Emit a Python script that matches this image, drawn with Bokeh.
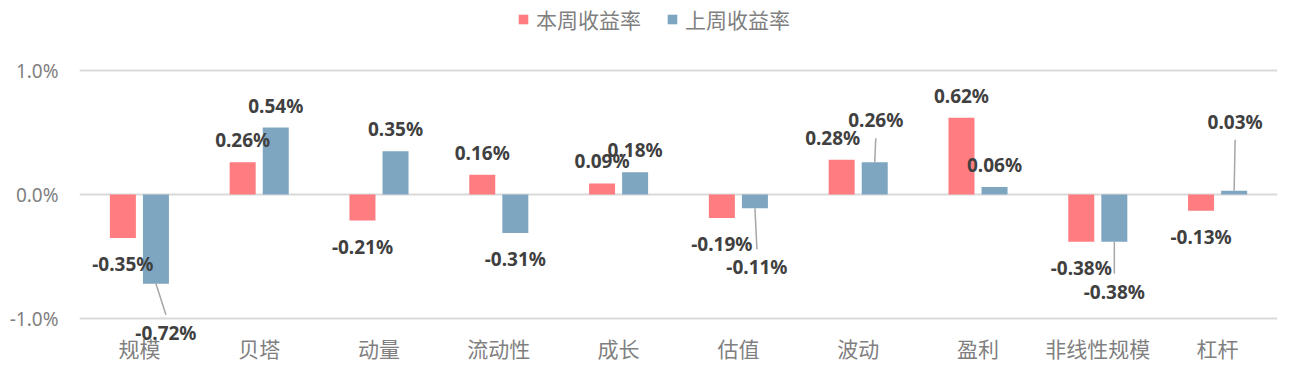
from bokeh.plotting import figure
from bokeh.models import (ColumnDataSource, Range1d, FixedTicker, PrintfTickFormatter,
                          Legend, LegendItem)
from bokeh.core.properties import value
from bokeh.embed import file_html
from bokeh.resources import INLINE

# ---- data ----
categories = ["规模", "贝塔", "动量", "流动性", "成长", "估值", "波动", "盈利", "非线性规模", "杠杆"]
this_week = [-0.35, 0.26, -0.21, 0.16, 0.09, -0.19, 0.28, 0.62, -0.38, -0.13]
last_week = [-0.72, 0.54, 0.35, -0.31, 0.18, -0.11, 0.26, 0.06, -0.38, 0.03]
series_names = ["本周收益率", "上周收益率"]
y_ticks = [-1.0, 0.0, 1.0]

# ---- style / layout ----
RED = "#FF7C80"
BLUE = "#7EA6C0"
LABEL_COLOR = "#404040"
AXIS_COLOR = "#7F7F7F"
W, H = 1290, 369
BORDER_L, BORDER_R, BORDER_T, BORDER_B = 79, 13, 0, 0
# frame spans the whole height: the -1%..1% band sits at 70..318 px,
# the extra room holds the legend (top) and category labels (bottom)
Y_MIN, Y_MAX = -1.411, 1.565
BAR_W = 0.217
OFFSET = 0.138
PX_X = (W - BORDER_L - BORDER_R) / len(categories)        # px per category
PX_Y = (H - BORDER_T - BORDER_B) / (Y_MAX - Y_MIN)        # px per 1.0 %
CAT_LABEL_GAP = 29                                         # px below the -1.0% line

# label position tweaks (screen px, up positive): None = default outside-end
red_label_dx = [0, 0, 0, 0, 0, 0, -9, 0, 0, 0]
blue_label_dx = [10, 0, 0, 0, 0, 2, 1, 0, 0, 1]
blue_label_dy = [-49, None, None, None, None, -59, 42, None, -50, 69]
leader_flags = [True, False, False, False, False, True, True, False, True, True]

def default_dy(v):
    return 22 if v >= 0 else -26

idx = list(range(len(categories)))
red_x = [i - OFFSET for i in idx]
blue_x = [i + OFFSET for i in idx]

red_dy = [default_dy(v) for v in this_week]
blue_dy = [d if d is not None else default_dy(v) for d, v in zip(blue_label_dy, last_week)]

red_src = ColumnDataSource(dict(x=red_x, top=this_week,
                                lx=[x + d / PX_X for x, d in zip(red_x, red_label_dx)],
                                ly=[v + d / PX_Y for v, d in zip(this_week, red_dy)],
                                text=[f"{v:.2f}%" for v in this_week]))
blue_src = ColumnDataSource(dict(x=blue_x, top=last_week,
                                 lx=[x + d / PX_X for x, d in zip(blue_x, blue_label_dx)],
                                 ly=[v + d / PX_Y for v, d in zip(last_week, blue_dy)],
                                 text=[f"{v:.2f}%" for v in last_week]))

p = figure(width=W, height=H, output_backend="svg", toolbar_location=None,
           x_range=Range1d(-0.5, len(categories) - 0.5), y_range=Range1d(Y_MIN, Y_MAX),
           min_border_left=BORDER_L, min_border_right=BORDER_R,
           min_border_top=BORDER_T, min_border_bottom=BORDER_B)
p.outline_line_color = None
p.background_fill_color = "white"
p.border_fill_color = "white"

r_red = p.vbar(x="x", top="top", bottom=0, width=BAR_W, source=red_src,
               fill_color=RED, line_color=None)
r_blue = p.vbar(x="x", top="top", bottom=0, width=BAR_W, source=blue_src,
                fill_color=BLUE, line_color=None)

# leader lines
lx0, ly0, lx1, ly1 = [], [], [], []
for i, v in enumerate(last_week):
    if leader_flags[i]:
        d = blue_dy[i]
        sgn = 1 if d > 0 else -1
        lx0.append(blue_x[i])
        ly0.append(v)
        lx1.append(blue_x[i] + blue_label_dx[i] / PX_X)
        ly1.append(v + (d - sgn * 18) / PX_Y)
p.segment(x0=lx0, y0=ly0, x1=lx1, y1=ly1, line_color="#A6A6A6", line_width=1.5)

for src in (red_src, blue_src):
    p.text(x="lx", y="ly", text="text", source=src,
           text_align="center", text_baseline="middle",
           text_font=value("Noto Sans"), text_font_style="bold",
           text_font_size="19px", text_color=LABEL_COLOR)

# category labels (drawn under the -1.0% line)
p.text(x=idx, y=[y_ticks[0] - CAT_LABEL_GAP / PX_Y] * len(idx), text=categories,
       text_align="center", text_baseline="middle",
       text_font=value("Noto Sans CJK SC"), text_font_size="21px", text_color=AXIS_COLOR)

# axes
p.xaxis.visible = False
p.yaxis.ticker = FixedTicker(ticks=y_ticks)
p.yaxis.formatter = PrintfTickFormatter(format="%.1f%%")
p.yaxis.axis_line_color = None
p.yaxis.major_tick_line_color = None
p.yaxis.minor_tick_line_color = None
p.yaxis.major_label_text_font = "Noto Sans"
p.yaxis.major_label_text_font_size = "19px"
p.yaxis.major_label_text_color = AXIS_COLOR
p.yaxis.major_label_standoff = 15

p.xgrid.grid_line_color = None
p.ygrid.ticker = FixedTicker(ticks=y_ticks)
p.ygrid.grid_line_color = "#D9D9D9"
p.ygrid.grid_line_width = 2

legend = Legend(items=[LegendItem(label=series_names[0], renderers=[r_red]),
                       LegendItem(label=series_names[1], renderers=[r_blue])],
                orientation="horizontal", location=(438, 335),
                glyph_width=12, glyph_height=12, label_standoff=7, spacing=25,
                padding=0, margin=0, border_line_color=None, background_fill_alpha=0,
                label_text_font="Noto Sans CJK SC", label_text_font_size="21px",
                label_text_color=AXIS_COLOR)
p.add_layout(legend)

open("out.html", "w").write(file_html(p, INLINE))
